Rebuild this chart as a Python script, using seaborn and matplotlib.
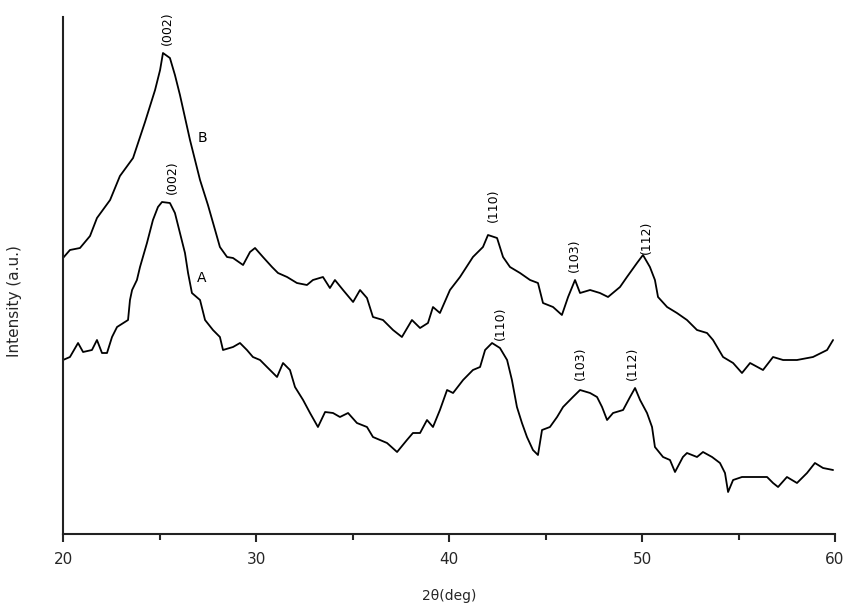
import matplotlib
matplotlib.use("Agg")
import matplotlib.pyplot as plt
import seaborn as sns
import pandas as pd

# XRD patterns, 2θ in degrees, intensity in arbitrary units
two_theta_b = [20.00, 20.36, 20.88, 21.40, 21.76, 22.44, 22.95, 23.63, 24.25, 24.77,
               25.03, 25.18, 25.54, 25.80, 26.06, 26.58, 27.10, 27.51, 27.88, 28.13,
               28.50, 28.81, 29.33, 29.69, 29.95, 30.36, 30.83, 31.14, 31.61, 32.12,
               32.64, 32.95, 33.47, 33.83, 34.09, 34.51, 35.03, 35.39, 35.75, 36.06,
               36.58, 37.10, 37.56, 38.08, 38.50, 38.91, 39.17, 39.53, 40.05, 40.57,
               41.24, 41.76, 42.02, 42.49, 42.80, 43.16, 43.68, 44.20, 44.61, 44.87,
               45.39, 45.85, 46.17, 46.53, 46.79, 47.31, 47.82, 48.24, 48.86, 49.22,
               49.74, 50.05, 50.41, 50.67, 50.83, 51.30, 51.81, 52.33, 52.85, 53.37,
               53.68, 54.20, 54.72, 55.18, 55.60, 56.27, 56.79, 57.31, 58.03, 58.86,
               59.59, 59.90]
intensity_b = [276, 284, 286, 298, 316, 334, 358, 376, 412, 444,
               464, 481, 476, 459, 439, 394, 354, 329, 304, 287,
               277, 276, 269, 282, 286, 277, 267, 261, 257, 251,
               249, 254, 257, 246, 254, 244, 232, 244, 236, 217,
               214, 204, 197, 214, 206, 211, 227, 221, 244, 257,
               277, 287, 299, 296, 277, 267, 261, 254, 251, 231,
               227, 219, 237, 254, 241, 244, 241, 237, 247, 257,
               271, 279, 267, 254, 237, 227, 221, 214, 204, 201,
               194, 177, 171, 161, 171, 164, 177, 174, 174, 177,
               184, 194]

two_theta_a = [20.00, 20.36, 20.78, 21.04, 21.50, 21.76, 22.02, 22.28, 22.54, 22.80,
               23.37, 23.47, 23.58, 23.83, 23.99, 24.35, 24.66, 24.92, 25.13, 25.54,
               25.80, 26.06, 26.32, 26.48, 26.68, 27.10, 27.36, 27.77, 28.13, 28.29,
               28.81, 29.17, 29.53, 29.84, 30.21, 30.57, 31.09, 31.40, 31.76, 32.02,
               32.44, 32.80, 33.21, 33.58, 33.99, 34.35, 34.77, 35.23, 35.75, 36.06,
               36.79, 37.31, 37.82, 38.13, 38.50, 38.86, 39.17, 39.53, 39.90, 40.21,
               40.73, 41.24, 41.61, 41.87, 42.23, 42.64, 43.01, 43.26, 43.52, 43.78,
               44.04, 44.35, 44.61, 44.82, 45.23, 45.60, 45.91, 46.42, 46.79, 47.31,
               47.67, 47.93, 48.19, 48.50, 49.02, 49.38, 49.64, 49.90, 50.26, 50.52,
               50.67, 51.09, 51.45, 51.71, 52.12, 52.33, 52.85, 53.16, 53.63, 54.04,
               54.30, 54.46, 54.72, 55.18, 55.75, 56.48, 56.79, 57.05, 57.51, 58.03,
               58.55, 58.96, 59.38, 59.90]
intensity_a = [174, 177, 191, 182, 184, 194, 181, 181, 197, 207,
               214, 234, 244, 254, 267, 291, 314, 327, 332, 331,
               321, 301, 281, 261, 241, 234, 214, 204, 197, 184,
               187, 191, 184, 177, 174, 167, 157, 171, 164, 147,
               134, 121, 107, 122, 121, 117, 121, 111, 107, 97,
               91, 82, 94, 101, 101, 114, 107, 124, 144, 141,
               154, 164, 167, 184, 191, 186, 174, 154, 127, 111,
               97, 84, 79, 104, 107, 117, 127, 137, 144, 141,
               137, 127, 114, 121, 124, 137, 146, 134, 121, 107,
               87, 77, 74, 62, 77, 81, 77, 82, 77, 71,
               61, 42, 54, 57, 57, 57, 51, 47, 57, 51,
               61, 71, 66, 64]

# Reflection labels: (text, 2θ, intensity)
peak_labels = ["(002)", "(110)", "(103)", "(112)",
               "(002)", "(110)", "(103)", "(112)"]
peak_x = [25.4, 42.3, 46.5, 50.25, 25.65, 42.65, 46.8, 49.5]
peak_y = [506, 329, 279, 297, 357, 211, 171, 171]

sample_names = ["B", "A"]
sample_x = [27.2, 27.2]
sample_y = [396, 256]

df = pd.concat([
    pd.DataFrame({"2θ": two_theta_b, "I": intensity_b, "sample": "B"}),
    pd.DataFrame({"2θ": two_theta_a, "I": intensity_a, "sample": "A"}),
])

sns.set_style("white")
plt.rcParams["font.family"] = ["DejaVu Sans"]

fig = plt.figure(figsize=(8.47, 6.09), dpi=100)
ax = fig.add_axes([63 / 847, 75 / 609, 772 / 847, 517 / 609])

sns.lineplot(data=df, x="2θ", y="I", units="sample", estimator=None,
             color="black", linewidth=1.3, sort=False, ax=ax, legend=False)

for txt, x, y in zip(peak_labels, peak_x, peak_y):
    ax.text(x, y, txt, rotation=90, ha="center", va="center",
            fontsize=9, color="black")
for txt, x, y in zip(sample_names, sample_x, sample_y):
    ax.text(x, y, txt, ha="center", va="center", fontsize=10, color="black")

ax.set_xlim(20, 60)
ax.set_ylim(0, 517)
ax.set_xticks([20, 30, 40, 50, 60])
ax.set_xticks([25, 35, 45, 55], minor=True)
ax.set_yticks([])
ax.tick_params(axis="x", which="major", direction="out", length=6, width=1.5,
               labelsize=11, bottom=True, pad=7)
ax.tick_params(axis="x", which="minor", direction="out", length=4, width=1.5,
               bottom=True)

for side in ("top", "right"):
    ax.spines[side].set_visible(False)
for side in ("left", "bottom"):
    ax.spines[side].set_linewidth(1.5)
    ax.spines[side].set_color("#222222")

ax.set_xlabel("2θ(deg)", fontsize=10, labelpad=16)
ax.set_ylabel("Intensity (a.u.)", fontsize=11)
ax.yaxis.set_label_coords(-0.053, 0.45)

fig.savefig("out.png", dpi=100)
